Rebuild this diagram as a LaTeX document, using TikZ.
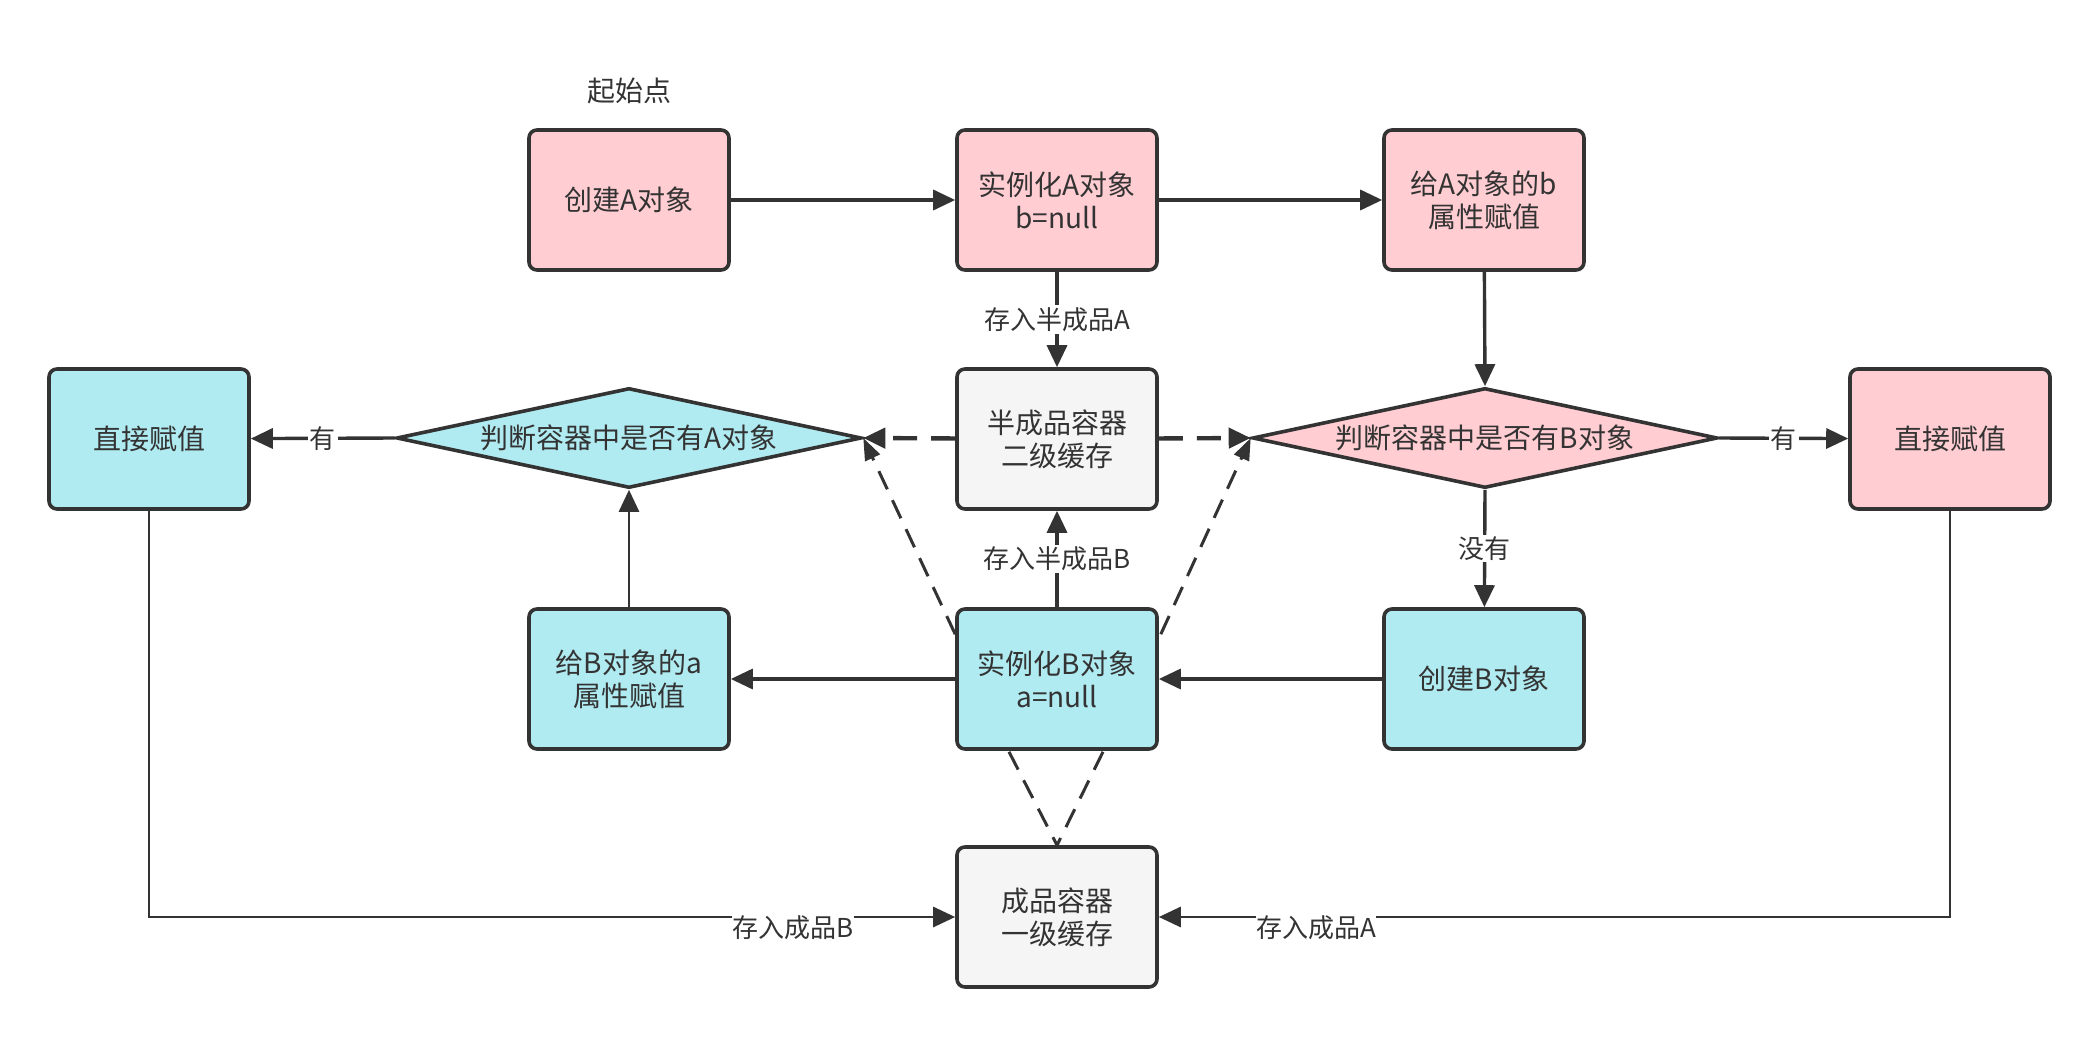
\documentclass[tikz,border=0pt]{standalone}
\usepackage{fontspec}
\setmainfont{Noto Sans CJK SC}
\usetikzlibrary{shapes.geometric,arrows.meta,calc}
\definecolor{ln}{HTML}{333333}
\definecolor{pinkf}{HTML}{FFCDD2}
\definecolor{cyanf}{HTML}{B1EBF2}
\definecolor{grayf}{HTML}{F5F5F5}
\newcommand\mynodefont{\fontsize{14pt}{16.5pt}\selectfont}
\newcommand\mylblfont{\fontsize{13pt}{15pt}\selectfont}
\begin{document}
\begin{tikzpicture}[x=0.5pt,y=-0.5pt,
  box/.style={draw=ln, line width=1.8pt, rounded corners=4pt, minimum width=100pt,
    minimum height=70pt, align=center, font=\mynodefont, text=ln, inner sep=0pt},
  pinkbox/.style={box, fill=pinkf},
  cyanbox/.style={box, fill=cyanf},
  graybox/.style={box, fill=grayf},
  dia/.style={diamond, draw=ln, line width=1.8pt, aspect=4.65, minimum width=232.5pt,
    minimum height=50pt, inner sep=0pt, font=\mynodefont, text=ln},
  arr/.style={draw=ln, line width=1.7pt, -{Triangle[length=11pt,width=10pt]}},
  thinarr/.style={draw=ln, line width=1.4pt, -{Triangle[length=11pt,width=10pt]}},
  dasharr/.style={draw=ln, line width=2.2pt, dash pattern=on 12pt off 7pt, -{Triangle[length=11pt,width=10pt]}},
  diagarr/.style={draw=ln, line width=1.5pt, dash pattern=on 10pt off 6pt, -{Triangle[length=11pt,width=8pt]}},
  vdash/.style={draw=ln, line width=1.5pt, dash pattern=on 10pt off 6pt},
  lbl/.style={fill=white, inner sep=1pt, font=\mylblfont, text=ln},
  plain/.style={font=\mynodefont, text=ln, inner sep=0pt}
]
\useasboundingbox (0,0) rectangle (2100,1038);

\node[plain] (start) at (629,91) {起始点};
\node[pinkbox] (cA) at (629,200) {创建A对象};
\node[pinkbox] (iA) at (1057,200) {实例化A对象\\b=null};
\node[pinkbox] (gA) at (1484,200) {给A对象的b\\属性赋值};
\node[graybox] (half) at (1057,439) {半成品容器\\二级缓存};
\node[dia, fill=cyanf] (dA) at (629,438) {判断容器中是否有A对象};
\node[dia, fill=pinkf] (dB) at (1485,438) {判断容器中是否有B对象};
\node[cyanbox] (zL) at (149,439) {直接赋值};
\node[pinkbox] (zR) at (1950,439) {直接赋值};
\node[cyanbox] (gB) at (629,679) {给B对象的a\\属性赋值};
\node[cyanbox] (iB) at (1057,679) {实例化B对象\\a=null};
\node[cyanbox] (cB) at (1484,679) {创建B对象};
\node[graybox] (full) at (1057,917) {成品容器\\一级缓存};

% solid flow
\draw[arr] (cA) -- (iA);
\draw[arr] (iA) -- (gA);
\draw[arr] (iA) -- node[lbl] {存入半成品A} (half);
\draw[arr] (gA) -- (dB.north);
\draw[arr] (dB.east) -- node[lbl] {有} (zR);
\draw[arr] (dB.south) -- node[lbl] {没有} (cB);
\draw[arr] (cB) -- (iB);
\draw[arr] (iB) -- (gB);
\draw[arr] (iB) -- node[lbl] {存入半成品B} (half);
\draw[thinarr] (gB) -- (dA.south);
\draw[arr] (dA.west) -- node[lbl] {有} (zL);

% dashed from half container
\draw[dasharr] (half) -- (dA.east);
\draw[dasharr] (half) -- (dB.west);

% dashed diagonals
\coordinate (iBl) at ($(iB.north west)+(0,27)$);
\coordinate (iBr) at ($(iB.north east)+(2,27)$);
\draw[diagarr] (iBl) -- (dA.east);
\draw[diagarr] (iBr) -- (dB.west);

% dashed V to full container
\coordinate (vL) at ($(iB.south)+(-48,1)$);
\coordinate (vR) at ($(iB.south)+(46,1)$);
\draw[vdash] (vL) -- (full.north);
\draw[vdash] (vR) -- (full.north);

% store finished
\draw[thinarr] (zL.south) |- (full.west);
\draw[thinarr] (zR.south) |- (full.east);
\node[lbl, inner sep=0pt] (lB) at (793,928) {存入成品B};
\node[lbl, inner sep=0pt] (lA) at (1316,928) {存入成品A};
\end{tikzpicture}
\end{document}
